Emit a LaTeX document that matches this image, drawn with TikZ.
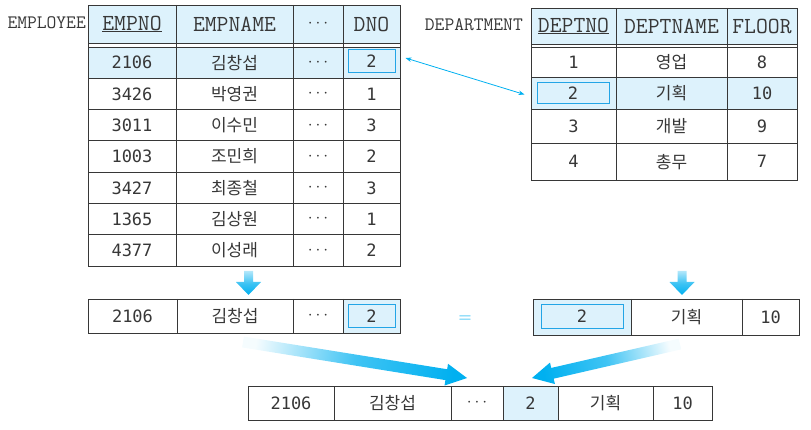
\documentclass[tikz,border=0pt]{standalone}
\usepackage{fontspec}
\usepackage{graphicx}
\usetikzlibrary{arrows.meta,calc,positioning}
\newfontfamily\digitfont{DejaVu Sans Mono}
\newfontfamily\krfont{Noto Sans CJK KR}
\definecolor{arrowcyan}{RGB}{0,176,240}
\definecolor{palecyan}{RGB}{221,242,252}
\definecolor{keycyan}{RGB}{35,165,230}
\definecolor{inkgray}{RGB}{55,55,55}
\tikzset{
  gridline/.style={line width=0.9pt,draw=inkgray},
  headtext/.style={font=\ttfamily\fontsize{23}{23}\selectfont,text=inkgray,inner sep=0pt},
  numtext/.style={font=\digitfont\fontsize{17}{17}\selectfont,text=inkgray,inner sep=0pt},
  kortext/.style={font=\krfont\fontsize{17}{17}\selectfont,text=inkgray,inner sep=0pt},
  dotstext/.style={font=\fontsize{16}{16}\selectfont,text=inkgray,inner sep=0pt},
  tabname/.style={font=\ttfamily\fontsize{19}{19}\selectfont,text=inkgray,inner sep=0pt},
  keybox/.style={draw=keycyan,line width=1pt,fill=palecyan,inner sep=0pt,
    font=\digitfont\fontsize{17}{17}\selectfont,text=inkgray},
}
% thick shaded arrow: start, tip, half shaft, half head, head length, shading angle, start colour
\newcommand{\fatarrow}[7]{%
  \coordinate (fa-h) at ($(#2)!#5pt!(#1)$);
  \shade[top color=#7,bottom color=arrowcyan,middle color=arrowcyan!75,shading angle=#6]
    ($(#1)!#3pt!90:(#2)$) -- ($(fa-h)!#3pt!90:(#2)$) -- ($(fa-h)!#4pt!90:(#2)$)
    -- (#2) -- ($(fa-h)!#4pt!-90:(#2)$) -- ($(fa-h)!#3pt!-90:(#2)$)
    -- ($(#1)!#3pt!-90:(#2)$) -- cycle;
}

\begin{document}
\begin{tikzpicture}[x=1pt,y=-1pt,>=Stealth]
  \useasboundingbox (0,0) rectangle (811,430);

  % EMPLOYEE table
  \fill[palecyan] (88,5) rectangle (400,43);
  \fill[palecyan] (88,47) rectangle (400,78.3);
  \draw[gridline] (88,5) rectangle (400,266);
  \draw[gridline] (88,43) -- (400,43);
  \foreach \y in {47,78.3,109.6,140.9,172.2,203.5,234.8}
    \draw[gridline] (88,\y) -- (400,\y);
  \foreach \x in {176,293,343}
    \draw[gridline] (\x,5) -- (\x,266);
  \node[tabname,anchor=east] (emptab) at (86,23) {EMPLOYEE};
  \node[headtext] (eh1) at (132,24) {\underline{EMPNO}};
  \node[headtext] (eh2) at (234.5,24) {EMPNAME};
  \node[dotstext] (eh3) at (318,24) {$\cdots$};
  \node[headtext] (eh4) at (371.5,24) {DNO};
  \node[numtext] (eno1) at (132,62.65) {2106};
  \node[kortext] (ename1) at (234.5,62.65) {김창섭};
  \node[dotstext] (edots1) at (318,62.65) {$\cdots$};
  \node[keybox,minimum width=47,minimum height=23] (ekey) at (371.5,61) {2};
  \foreach \no/\name/\dno [count=\i from 2] in
      {3426/박영권/1,3011/이수민/3,1003/조민희/2,3427/최종철/3,1365/김상원/1,4377/이성래/2} {
    \node[numtext] (eno\i) at (132,31.35+31.3*\i) {\no};
    \node[kortext] (ename\i) at (234.5,31.35+31.3*\i) {\name};
    \node[dotstext] (edots\i) at (318,31.35+31.3*\i) {$\cdots$};
    \node[numtext] (edno\i) at (371.5,31.35+31.3*\i) {\dno};
  }

  % DEPARTMENT table
  \fill[palecyan] (531,8) rectangle (797,44);
  \fill[palecyan] (531,77.5) rectangle (797,109.5);
  \draw[gridline] (531,8) rectangle (797,180);
  \draw[gridline] (531,44) -- (797,44);
  \foreach \y in {47,77.5,109.5,143.5}
    \draw[gridline] (531,\y) -- (797,\y);
  \foreach \x in {616,727}
    \draw[gridline] (\x,8) -- (\x,180);
  \node[tabname,anchor=east] (depttab) at (523,25) {DEPARTMENT};
  \node[headtext] (dh1) at (573.5,26) {\underline{DEPTNO}};
  \node[headtext] (dh2) at (671.5,26) {DEPTNAME};
  \node[headtext] (dh3) at (762,26) {FLOOR};
  \node[keybox,minimum width=72,minimum height=21] (dkey) at (573,93.5) {2};
  \foreach \no/\name/\fl/\yc [count=\i] in
      {1/영업/8/62.25,2/기획/10/93.5,3/개발/9/126.5,4/총무/7/161.75} {
    \ifnum\i=2\else\node[numtext] (dno\i) at (573.5,\yc) {\no};\fi
    \node[kortext] (dname\i) at (671.5,\yc) {\name};
    \node[numtext] (dfl\i) at (762,\yc) {\fl};
  }

  % selected tuples
  \fill[palecyan] (343,299) rectangle (400,333);
  \draw[gridline] (88,299) rectangle (400,333);
  \foreach \x in {177,293,343}
    \draw[gridline] (\x,299) -- (\x,333);
  \node[numtext] (tno) at (132.5,316) {2106};
  \node[kortext] (tname) at (235,316) {김창섭};
  \node[dotstext] (tdots) at (318,316) {$\cdots$};
  \node[keybox,minimum width=47,minimum height=22] (tkey) at (371.5,316) {2};
  \node[font=\fontsize{18}{18}\selectfont,text=arrowcyan,inner sep=0pt] (eq) at (465,319) {=};
  \fill[palecyan] (533,299) rectangle (631,335);
  \draw[gridline] (533,299) rectangle (799,335);
  \foreach \x in {631,742}
    \draw[gridline] (\x,299) -- (\x,335);
  \node[keybox,minimum width=82,minimum height=23] (skey) at (582,316.5) {2};
  \node[kortext] (sname) at (686.5,317) {기획};
  \node[numtext] (sfl) at (770.5,317) {10};

  % joined tuple
  \fill[palecyan] (503,386) rectangle (558,420);
  \draw[gridline] (248,386) rectangle (712,420);
  \foreach \x in {334,451,503,558,653}
    \draw[gridline] (\x,386) -- (\x,420);
  \node[numtext] (rno) at (291,403) {2106};
  \node[kortext] (rname) at (392.5,403) {김창섭};
  \node[dotstext] (rdots) at (477,403) {$\cdots$};
  \node[numtext] (rdno) at (530.5,403) {2};
  \node[kortext] (rdname) at (605.5,403) {기획};
  \node[numtext] (rfl) at (682.5,403) {10};

  % arrows
  \draw[<->,arrowcyan,line width=0.8pt,>={Stealth[length=6pt,width=4.5pt]}]
    ($(ekey.east)+(10,-3)$) -- ($(dkey.west)+(-12,1)$);
  \coordinate (edown) at (248.5,271);
  \coordinate (etip) at (248.5,295);
  \coordinate (ddown) at (682,271);
  \coordinate (dtip) at (682,295);
  \fatarrow{edown}{etip}{4.5}{12.5}{13}{0}{arrowcyan!30}
  \fatarrow{ddown}{dtip}{4.5}{12.5}{13}{0}{arrowcyan!30}
  \coordinate (efrom) at (243,342);
  \coordinate (eto) at (467,378);
  \coordinate (dfrom) at (680,344);
  \coordinate (dto) at (532,378);
  \fatarrow{efrom}{eto}{5.5}{11}{21}{80.9}{arrowcyan!4}
  \fatarrow{dfrom}{dto}{5.5}{11}{21}{-77.1}{arrowcyan!4}
\end{tikzpicture}
\end{document}
